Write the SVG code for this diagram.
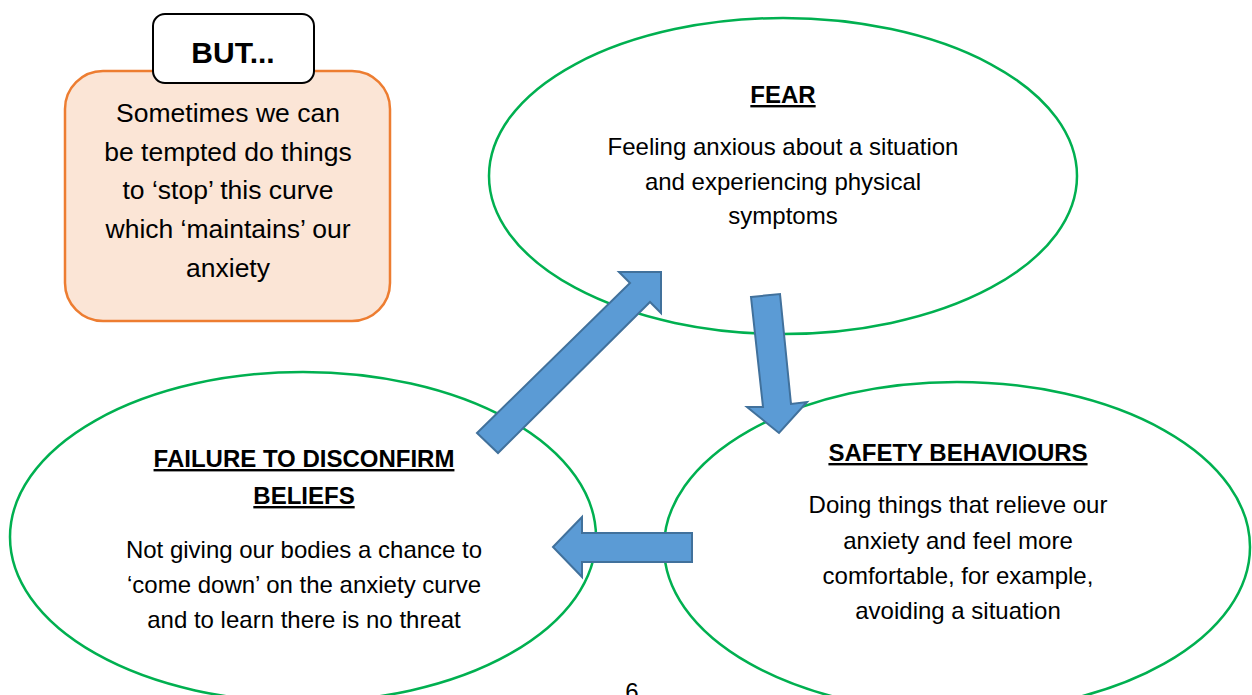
<svg xmlns="http://www.w3.org/2000/svg" width="1252" height="695" viewBox="0 0 1252 695">
<style>
.oval{fill:#FFFFFF;stroke:#00B050;stroke-width:2.5}
.arrow{fill:#5B9BD5;stroke:#41719C;stroke-width:2;stroke-linejoin:miter}
.t{font-family:"Liberation Sans",Arial,sans-serif;fill:#000;text-anchor:middle}
.body{font-size:24px}
.head{font-size:24px;font-weight:bold;text-decoration:underline}
.note{font-size:26.5px}
</style>
<rect width="1252" height="695" fill="#FFFFFF"/>
<g id="note">
<rect x="65" y="71" width="325" height="250" rx="38" ry="38" fill="#FBE5D6" stroke="#ED7D31" stroke-width="2.5"/>
<text class="t note" x="228" y="122">Sometimes we can</text>
<text class="t note" x="228" y="161">be tempted do things</text>
<text class="t note" x="228" y="199">to ‘stop’ this curve</text>
<text class="t note" x="228" y="238">which ‘maintains’ our</text>
<text class="t note" x="228" y="277">anxiety</text>
</g>
<g id="but">
<rect x="153" y="14" width="161" height="69" rx="12" ry="12" fill="#FFFFFF" stroke="#000000" stroke-width="2"/>
<text class="t" x="233" y="63" style="font-size:30px;font-weight:bold">BUT...</text>
</g>
<g id="fear">
<ellipse class="oval" cx="783" cy="176" rx="294" ry="158"/>
<text class="t head" x="783" y="103">FEAR</text>
<text class="t body" x="783" y="155">Feeling anxious about a situation</text>
<text class="t body" x="783" y="190">and experiencing physical</text>
<text class="t body" x="783" y="224">symptoms</text>
</g>
<g id="safety">
<ellipse class="oval" cx="957" cy="547" rx="293" ry="165"/>
<text class="t head" x="958" y="461">SAFETY BEHAVIOURS</text>
<text class="t body" x="958" y="513">Doing things that relieve our</text>
<text class="t body" x="958" y="549">anxiety and feel more</text>
<text class="t body" x="958" y="584">comfortable, for example,</text>
<text class="t body" x="958" y="619">avoiding a situation</text>
</g>
<g id="failure">
<ellipse class="oval" cx="303" cy="537" rx="293" ry="165"/>
<text class="t head" x="304" y="467">FAILURE TO DISCONFIRM</text>
<text class="t head" x="304" y="504">BELIEFS</text>
<text class="t body" x="304" y="558">Not giving our bodies a chance to</text>
<text class="t body" x="304" y="593">‘come down’ on the anxiety curve</text>
<text class="t body" x="304" y="628">and to learn there is no threat</text>
</g>
<g id="connectors">
<polygon class="arrow" points="477,433 630,283 619,272 661,272 661,313 650,302 498,453"/>
<polygon class="arrow" points="751,297 780,294 791,404 807,402 779,433 747,407 763,407"/>
<polygon class="arrow" points="553,547 582,517 582,533 692,533 692,562 582,562 582,577"/>
</g>
<text class="t body" x="632" y="700">6</text>
</svg>
